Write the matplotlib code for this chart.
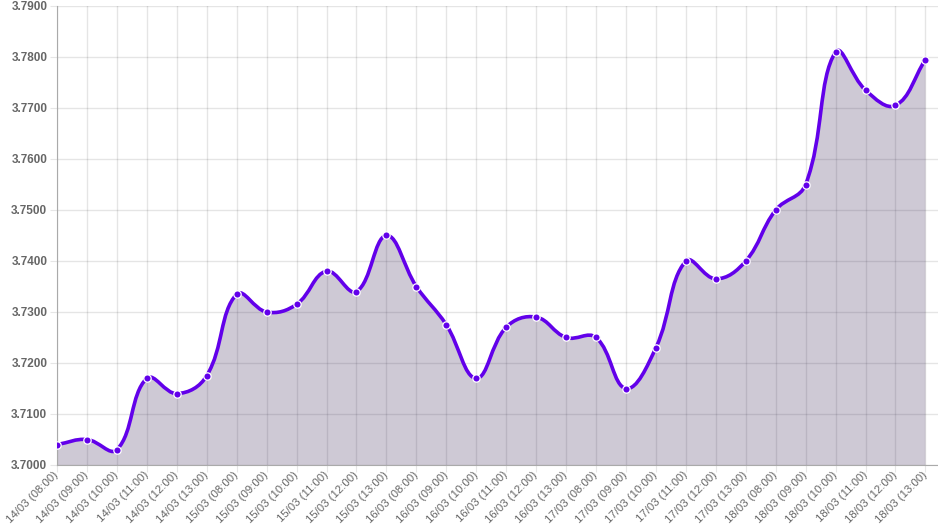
import numpy as np
import matplotlib.pyplot as plt
from matplotlib.path import Path
from matplotlib.patches import PathPatch

plt.rcParams["font.family"] = ["Liberation Sans", "DejaVu Sans"]

days = ["14/03", "15/03", "16/03", "17/03", "18/03"]
hours = ["08:00", "09:00", "10:00", "11:00", "12:00", "13:00"]
labels = [f"{d} ({h})" for d in days for h in hours]

values = [3.7040, 3.7050, 3.7030, 3.7170, 3.7140, 3.7175,
          3.7335, 3.7300, 3.7315, 3.7380, 3.7340, 3.7450,
          3.7350, 3.7275, 3.7170, 3.7270, 3.7290, 3.7250,
          3.7250, 3.7150, 3.7230, 3.7400, 3.7365, 3.7400,
          3.7500, 3.7550, 3.7810, 3.7735, 3.7705, 3.7795]

LINE = "#6200ea"
GRAY = "#666666"
YMIN, YMAX = 3.70, 3.79
XSCALE, YSCALE = 30.0, 5100.0   # px per unit, for chart.js-like tension


def bezier_path(x, y, tension=0.4):
    # control points like chart.js splineCurve, computed in pixel space
    px = np.asarray(x, float) * XSCALE
    py = np.asarray(y, float) * YSCALE
    n = len(px)
    verts = [(x[0], y[0])]
    codes = [Path.MOVETO]
    cps = []
    for i in range(n):
        p0 = (px[max(i - 1, 0)], py[max(i - 1, 0)])
        p1 = (px[i], py[i])
        p2 = (px[min(i + 1, n - 1)], py[min(i + 1, n - 1)])
        d01 = np.hypot(p1[0] - p0[0], p1[1] - p0[1])
        d12 = np.hypot(p2[0] - p1[0], p2[1] - p1[1])
        s = d01 + d12
        fa = tension * d01 / s if s else 0
        fb = tension * d12 / s if s else 0
        prev_cp = (p1[0] - fa * (p2[0] - p0[0]), p1[1] - fa * (p2[1] - p0[1]))
        next_cp = (p1[0] + fb * (p2[0] - p0[0]), p1[1] + fb * (p2[1] - p0[1]))
        cps.append((prev_cp, next_cp))
    for i in range(1, n):
        c1 = cps[i - 1][1]
        c2 = cps[i][0]
        verts += [(c1[0] / XSCALE, c1[1] / YSCALE),
                  (c2[0] / XSCALE, c2[1] / YSCALE),
                  (x[i], y[i])]
        codes += [Path.CURVE4] * 3
    return verts, codes


xs = np.arange(len(values))
verts, codes = bezier_path(xs, values)

fig = plt.figure(figsize=(9.38, 5.27), dpi=100)
ax = fig.add_axes([57 / 938, 1 - 465 / 527, 1 - 57 / 938, (465 - 6) / 527])

# filled area under the curve
fill_verts = verts + [(xs[-1], YMIN), (xs[0], YMIN), (xs[0], values[0])]
fill_codes = codes + [Path.LINETO, Path.LINETO, Path.CLOSEPOLY]
ax.add_patch(PathPatch(Path(fill_verts, fill_codes), facecolor=(60 / 255, 40 / 255, 90 / 255, 0.25),
                       edgecolor="none", zorder=2))
ax.add_patch(PathPatch(Path(verts, codes), facecolor="none", edgecolor=LINE, lw=2.6,
                       capstyle="round", joinstyle="round", zorder=3))
ax.scatter(xs, values, s=28, color=LINE, edgecolors="white", linewidths=0.9, zorder=4)

ax.set_xlim(0, 29.42)
ax.set_ylim(YMIN, YMAX)
ax.set_xticks(xs)
ax.set_xticklabels(labels, rotation=45, ha="right", va="center", rotation_mode="anchor",
                   fontsize=8.2, color=GRAY)
yt = np.linspace(YMIN, YMAX, 10)
ax.set_yticks(yt)
ax.set_yticklabels([f"{v:.4f}" for v in yt], fontsize=8.5, color=GRAY, fontweight="bold")

ax.grid(True, color="black", alpha=0.1, lw=1, zorder=0)
ax.set_axisbelow(True)
ax.tick_params(axis="x", length=5, color="#e6e6e6", pad=1)
ax.tick_params(axis="y", length=5, color="#e6e6e6", pad=2)
for side in ["top", "right"]:
    ax.spines[side].set_visible(False)
ax.spines["left"].set_color("#aaaaaa")
ax.spines["bottom"].set_color("#aaaaaa")

fig.savefig("out.png", dpi=100)
